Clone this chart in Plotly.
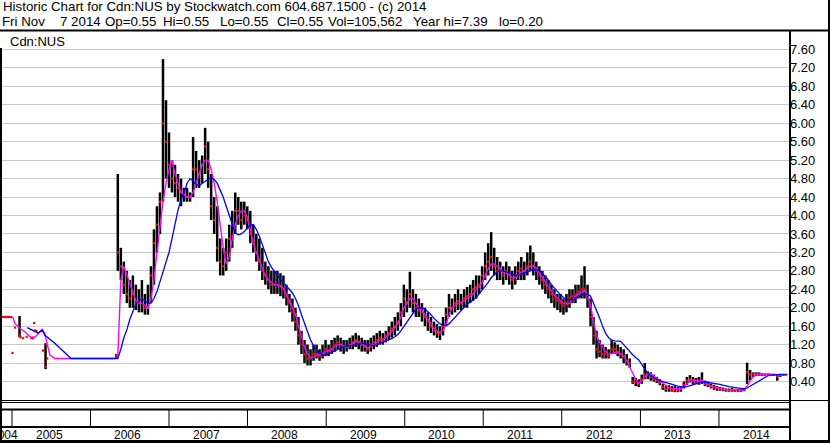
import pandas as pd
import plotly.graph_objects as go

# ---------------- data ----------------
# early, sparse trading (explicit dates)
early_dates = ["2004-11-16", "2004-11-23", "2004-11-30", "2004-12-07", "2004-12-14", "2004-12-21",
               "2004-12-29", "2005-01-03", "2005-01-15", "2005-02-05", "2005-02-10", "2005-02-22",
               "2005-03-10", "2005-04-02", "2005-04-09", "2005-04-14", "2005-04-17", "2005-04-25",
               "2005-05-25", "2005-06-06", "2005-06-10", "2005-06-14", "2006-05-01"]
early_high = [1.80, 1.80, 1.80, 1.80, 1.80, 1.80, 1.80, 1.02, 1.57, 1.82, 1.36, 1.34,
              1.37, 1.34, 1.34, 1.67, 1.51, 1.50, 1.07, 1.23, 1.19, 0.90, 1.00]
early_low = [1.80, 1.80, 1.80, 1.80, 1.80, 1.80, 1.80, 1.02, 1.57, 1.36, 1.36, 1.34,
             1.37, 1.34, 1.34, 1.67, 1.51, 1.50, 1.07, 0.67, 1.19, 0.90, 0.90]
early_close = [1.80, 1.80, 1.80, 1.80, 1.80, 1.80, 1.80, 1.02, 1.57, 1.40, 1.36, 1.34,
               1.37, 1.34, 1.34, 1.67, 1.51, 1.50, 1.07, 0.72, 1.19, 0.90, 0.97]

# main period: one bar every two weeks from 2006-05-08
main_start = "2006-05-08"
main_step = "14D"
main_high = [
    4.90, 3.30, 3.00, 2.80, 2.60, 2.70, 2.50, 2.40, 2.60, 2.30, 2.50, 2.90, 3.70, 4.20, 4.50, 7.39,
    6.50, 5.80, 5.20, 5.10, 4.90, 4.80, 4.60, 4.60, 4.50, 5.70, 5.40, 5.20, 5.30, 5.90, 5.60, 4.90,
    4.40, 4.20, 3.50, 3.30, 3.50, 3.80, 4.10, 4.50, 4.40, 4.30, 4.30, 4.20, 4.10, 3.80, 3.60, 3.50,
    3.30, 3.00, 2.90, 2.80, 2.80, 2.80, 2.75, 2.70, 2.50, 2.30, 2.20, 2.00, 1.80, 1.50, 1.30, 1.20,
    1.10, 1.20, 1.20, 1.10, 1.20, 1.30, 1.20, 1.30, 1.35, 1.40, 1.35, 1.30, 1.30, 1.35, 1.40, 1.45,
    1.40, 1.35, 1.30, 1.30, 1.35, 1.40, 1.45, 1.50, 1.45, 1.50, 1.60, 1.70, 1.80, 1.90, 2.10, 2.50,
    2.40, 2.78, 2.40, 2.30, 2.20, 2.10, 2.00, 1.90, 1.80, 1.70, 1.65, 1.60, 1.80, 2.00, 2.30, 2.20,
    2.30, 2.40, 2.30, 2.40, 2.45, 2.50, 2.60, 2.70, 2.70, 2.90, 3.20, 3.40, 3.64, 3.30, 3.10, 3.00,
    2.90, 3.00, 2.90, 2.80, 2.90, 3.00, 3.10, 3.00, 3.20, 3.35, 3.20, 3.00, 2.90, 2.80, 2.70, 2.60,
    2.50, 2.40, 2.30, 2.30, 2.20, 2.30, 2.40, 2.40, 2.50, 2.50, 2.70, 2.90, 2.50, 2.20, 1.80, 1.50,
    1.30, 1.20, 1.15, 1.10, 1.30, 1.25, 1.20, 1.15, 1.10, 1.00, 0.90, 0.50, 0.48, 0.45, 0.55, 0.80,
    0.62, 0.60, 0.55, 0.50, 0.45, 0.35, 0.30, 0.32, 0.30, 0.30, 0.28, 0.30, 0.40, 0.50, 0.54, 0.50,
    0.48, 0.50, 0.60, 0.42, 0.40, 0.35, 0.33, 0.30, 0.28, 0.27, 0.25, 0.25, 0.26, 0.24, 0.24, 0.25,
    0.26, 0.81, 0.65, 0.60, 0.60, 0.60, 0.58, 0.57, 0.57, 0.56, 0.56, 0.56, 0.56, 0.56, 0.56]
main_low = [
    2.80, 2.60, 2.30, 2.10, 2.00, 2.00, 1.95, 1.90, 1.90, 1.85, 1.85, 2.10, 2.50, 3.20, 3.60, 4.30,
    4.80, 4.60, 4.50, 4.40, 4.30, 4.20, 4.30, 4.30, 4.30, 4.40, 4.60, 4.60, 4.70, 4.90, 4.60, 3.90,
    3.60, 3.00, 2.70, 2.70, 2.80, 3.00, 3.30, 3.60, 3.80, 3.70, 3.80, 3.70, 3.40, 3.20, 3.00, 2.80,
    2.60, 2.50, 2.40, 2.30, 2.30, 2.30, 2.25, 2.20, 2.05, 1.90, 1.70, 1.50, 1.20, 1.00, 0.80, 0.75,
    0.75, 0.85, 0.90, 0.85, 0.90, 0.95, 0.95, 1.00, 1.05, 1.10, 1.05, 1.00, 1.05, 1.10, 1.10, 1.15,
    1.10, 1.05, 1.05, 1.00, 1.05, 1.10, 1.15, 1.20, 1.20, 1.25, 1.30, 1.35, 1.40, 1.50, 1.60, 1.80,
    1.90, 2.00, 1.90, 1.80, 1.80, 1.70, 1.60, 1.50, 1.45, 1.40, 1.35, 1.30, 1.40, 1.60, 1.80, 1.85,
    1.90, 1.95, 1.95, 2.00, 2.00, 2.10, 2.15, 2.20, 2.30, 2.40, 2.60, 2.70, 2.80, 2.70, 2.60, 2.60,
    2.50, 2.60, 2.50, 2.40, 2.50, 2.60, 2.60, 2.60, 2.70, 2.80, 2.70, 2.60, 2.50, 2.40, 2.30, 2.20,
    2.10, 2.00, 1.95, 1.90, 1.85, 1.90, 2.00, 2.10, 2.10, 2.20, 2.20, 2.20, 2.00, 1.60, 1.20, 0.90,
    0.93, 0.90, 0.90, 0.90, 1.00, 1.00, 0.95, 0.90, 0.80, 0.75, 0.70, 0.35, 0.30, 0.28, 0.35, 0.45,
    0.45, 0.42, 0.40, 0.37, 0.32, 0.22, 0.18, 0.18, 0.18, 0.17, 0.17, 0.18, 0.25, 0.33, 0.38, 0.35,
    0.35, 0.33, 0.35, 0.30, 0.28, 0.25, 0.22, 0.20, 0.20, 0.19, 0.18, 0.18, 0.18, 0.18, 0.17, 0.18,
    0.19, 0.35, 0.43, 0.50, 0.52, 0.52, 0.52, 0.53, 0.53, 0.53, 0.53, 0.42, 0.50, 0.53, 0.54]
main_close = [
    3.20, 2.90, 2.50, 2.30, 2.20, 2.30, 2.10, 2.10, 2.20, 2.00, 2.00, 2.70, 3.40, 3.80, 4.30, 6.00,
    5.60, 5.10, 4.80, 4.70, 4.60, 4.50, 4.45, 4.40, 4.40, 5.00, 5.00, 4.90, 5.10, 5.50, 5.00, 4.20,
    3.90, 3.30, 3.00, 2.90, 3.20, 3.50, 3.80, 4.10, 4.10, 3.90, 4.00, 3.90, 3.60, 3.40, 3.20, 3.00,
    2.80, 2.70, 2.60, 2.50, 2.50, 2.50, 2.45, 2.40, 2.25, 2.10, 1.90, 1.70, 1.40, 1.20, 1.00, 0.90,
    0.90, 1.00, 1.00, 0.95, 1.00, 1.10, 1.05, 1.10, 1.20, 1.25, 1.20, 1.15, 1.15, 1.20, 1.25, 1.30,
    1.25, 1.20, 1.15, 1.10, 1.20, 1.25, 1.30, 1.35, 1.30, 1.40, 1.45, 1.55, 1.60, 1.70, 1.90, 2.20,
    2.10, 2.30, 2.10, 2.00, 1.95, 1.90, 1.80, 1.70, 1.60, 1.50, 1.45, 1.45, 1.60, 1.85, 2.00, 2.00,
    2.10, 2.15, 2.10, 2.20, 2.25, 2.30, 2.40, 2.45, 2.50, 2.70, 2.90, 3.00, 3.10, 2.90, 2.80, 2.80,
    2.70, 2.80, 2.70, 2.60, 2.70, 2.80, 2.85, 2.80, 2.90, 3.00, 2.90, 2.80, 2.70, 2.60, 2.50, 2.40,
    2.30, 2.20, 2.15, 2.10, 2.05, 2.10, 2.20, 2.25, 2.30, 2.35, 2.40, 2.40, 2.20, 1.80, 1.40, 1.10,
    1.05, 1.00, 1.00, 0.95, 1.10, 1.10, 1.05, 1.00, 0.95, 0.85, 0.80, 0.40, 0.38, 0.35, 0.45, 0.55,
    0.55, 0.50, 0.45, 0.42, 0.38, 0.28, 0.24, 0.25, 0.22, 0.22, 0.22, 0.24, 0.33, 0.42, 0.45, 0.42,
    0.40, 0.40, 0.42, 0.35, 0.32, 0.30, 0.27, 0.25, 0.24, 0.23, 0.22, 0.21, 0.22, 0.21, 0.20, 0.21,
    0.22, 0.60, 0.55, 0.56, 0.56, 0.55, 0.55, 0.55, 0.55, 0.55, 0.55, 0.50, 0.55, 0.55, 0.55]

# moving averages, early part (explicit dates)
ma_short_early_dates = ["2005-01-04", "2005-01-15", "2005-02-07", "2005-03-02", "2005-03-26",
                        "2005-04-18", "2005-05-06", "2005-05-21", "2005-06-02", "2005-06-18",
                        "2005-06-26", "2005-07-19", "2006-04-24"]
ma_short_early = [1.80, 1.66, 1.55, 1.48, 1.37, 1.36, 1.45, 1.53, 1.45, 1.16, 0.98, 0.90, 0.90]
ma_long_early_dates = ["2005-03-13", "2005-04-09", "2005-05-03", "2005-05-21", "2005-06-02",
                       "2005-07-19", "2005-09-10", "2005-10-03", "2006-04-24"]
ma_long_early = [1.57, 1.50, 1.45, 1.52, 1.41, 1.23, 1.01, 0.90, 0.90]

# moving averages on the main two-week grid
ma_short = [
    0.95, 2.60, 2.90, 2.70, 2.50, 2.30, 2.15, 2.10, 2.10, 2.05, 2.00, 2.20, 2.60, 3.20, 3.80, 4.30,
    4.70, 5.00, 5.20, 4.90, 4.70, 4.50, 4.45, 4.40, 4.40, 4.50, 4.70, 4.90, 5.10, 5.20, 5.20, 5.00,
    4.70, 4.30, 3.80, 3.30, 2.95, 3.10, 3.50, 3.80, 4.00, 4.10, 4.10, 3.95, 3.70, 3.40, 3.20, 3.00,
    2.85, 2.70, 2.60, 2.55, 2.50, 2.50, 2.48, 2.42, 2.30, 2.15, 2.00, 1.85, 1.60, 1.35, 1.15, 1.00,
    0.92, 0.93, 0.97, 0.98, 1.00, 1.05, 1.07, 1.10, 1.15, 1.20, 1.20, 1.17, 1.15, 1.18, 1.22, 1.27,
    1.27, 1.22, 1.17, 1.13, 1.15, 1.20, 1.25, 1.30, 1.32, 1.35, 1.42, 1.50, 1.57, 1.65, 1.80, 2.00,
    2.10, 2.20, 2.20, 2.10, 2.00, 1.95, 1.85, 1.75, 1.65, 1.55, 1.50, 1.47, 1.50, 1.65, 1.85, 2.00,
    2.05, 2.10, 2.12, 2.15, 2.20, 2.25, 2.30, 2.40, 2.45, 2.55, 2.70, 2.85, 2.95, 2.95, 2.90, 2.85,
    2.75, 2.75, 2.72, 2.65, 2.65, 2.70, 2.78, 2.80, 2.85, 2.90, 2.92, 2.85, 2.75, 2.65, 2.55, 2.45,
    2.35, 2.27, 2.20, 2.15, 2.10, 2.08, 2.10, 2.17, 2.25, 2.30, 2.35, 2.38, 2.30, 2.05, 1.70, 1.40,
    1.25, 1.15, 1.05, 1.00, 1.00, 1.03, 1.03, 1.00, 0.95, 0.85, 0.72, 0.60, 0.45, 0.37, 0.40, 0.50,
    0.55, 0.57, 0.52, 0.45, 0.40, 0.35, 0.30, 0.27, 0.25, 0.24, 0.24, 0.25, 0.28, 0.35, 0.42, 0.43,
    0.43, 0.42, 0.42, 0.38, 0.34, 0.30, 0.28, 0.26, 0.25, 0.23, 0.22, 0.22, 0.22, 0.21, 0.21, 0.21,
    0.22, 0.30, 0.42, 0.50, 0.55, 0.56, 0.56, 0.55, 0.55, 0.55, 0.55, 0.54, 0.53, 0.54, 0.55]
ma_long = [
    0.90, 1.10, 1.35, 1.52, 1.75, 1.92, 2.08, 2.15, 2.20, 2.15, 2.10, 2.10, 2.20, 2.35, 2.55, 2.80,
    3.00, 3.20, 3.50, 3.85, 4.12, 4.35, 4.50, 4.70, 4.80, 4.75, 4.67, 4.65, 4.70, 4.75, 4.80, 4.83,
    4.78, 4.70, 4.55, 4.40, 4.20, 4.00, 3.80, 3.62, 3.58, 3.60, 3.65, 3.72, 3.80, 3.80, 3.70, 3.55,
    3.35, 3.15, 3.00, 2.88, 2.78, 2.70, 2.62, 2.55, 2.48, 2.40, 2.32, 2.20, 2.05, 1.85, 1.65, 1.45,
    1.30, 1.18, 1.08, 1.02, 0.98, 0.98, 1.00, 1.03, 1.06, 1.10, 1.13, 1.15, 1.16, 1.17, 1.18, 1.20,
    1.22, 1.23, 1.22, 1.20, 1.18, 1.18, 1.20, 1.22, 1.25, 1.28, 1.30, 1.33, 1.37, 1.42, 1.50, 1.60,
    1.70, 1.80, 1.90, 1.97, 2.00, 2.00, 1.97, 1.92, 1.85, 1.77, 1.70, 1.65, 1.62, 1.62, 1.65, 1.72,
    1.80, 1.88, 1.95, 2.02, 2.08, 2.12, 2.17, 2.22, 2.30, 2.38, 2.47, 2.55, 2.65, 2.72, 2.78, 2.80,
    2.80, 2.78, 2.75, 2.72, 2.70, 2.70, 2.72, 2.75, 2.78, 2.80, 2.82, 2.82, 2.80, 2.75, 2.68, 2.60,
    2.50, 2.42, 2.35, 2.28, 2.22, 2.18, 2.17, 2.17, 2.20, 2.23, 2.27, 2.30, 2.30, 2.25, 2.10, 1.95,
    1.78, 1.60, 1.45, 1.35, 1.30, 1.28, 1.27, 1.27, 1.20, 1.12, 1.05, 0.98, 0.92, 0.87, 0.77, 0.67,
    0.58, 0.52, 0.48, 0.45, 0.42, 0.40, 0.38, 0.35, 0.33, 0.31, 0.30, 0.29, 0.28, 0.29, 0.31, 0.34,
    0.36, 0.38, 0.39, 0.39, 0.38, 0.37, 0.37, 0.36, 0.34, 0.32, 0.30, 0.29, 0.28, 0.27, 0.26, 0.25,
    0.24, 0.26, 0.30, 0.34, 0.38, 0.42, 0.46, 0.50, 0.53, 0.54, 0.55, 0.55, 0.55, 0.55, 0.55]

y_ticks = [0.40, 0.80, 1.20, 1.60, 2.00, 2.40, 2.80, 3.20, 3.60, 4.00,
           4.40, 4.80, 5.20, 5.60, 6.00, 6.40, 6.80, 7.20, 7.60]
years = [2005, 2006, 2007, 2008, 2009, 2010, 2011, 2012, 2013, 2014]

title_line1 = "Historic Chart for Cdn:NUS by Stockwatch.com 604.687.1500 - (c) 2014"
title_line2_parts = ["Fri Nov", "7 2014", "Op=0.55", "Hi=0.55", "Lo=0.55", "Cl=0.55",
                     "Vol=105,562", "Year hi=7.39", "lo=0.20"]
symbol_label = "Cdn:NUS"

# ---------------- build ----------------
main_dates = list(pd.date_range(main_start, periods=len(main_high), freq=main_step))
all_dates = [pd.Timestamp(d) for d in early_dates] + main_dates
all_high = early_high + main_high
all_low = early_low + main_low
all_close = early_close + main_close

bx, by = [], []
for d, h, l in zip(all_dates, all_high, all_low):
    if h > l:
        bx += [d, d, None]
        by += [l, h, None]

ms_x = [pd.Timestamp(d) for d in ma_short_early_dates] + main_dates
ms_y = ma_short_early + ma_short
ml_x = [pd.Timestamp(d) for d in ma_long_early_dates] + main_dates
ml_y = ma_long_early + ma_long

FONT = "Liberation Sans, Arial, sans-serif"
W, H = 830, 443
PL, PR, PT, PB = 2, 789, 31, 400
# left pixel positions of the segments of the second header line
line2_px = [0, 58, 103, 161, 218, 275, 326, 411, 497]


def fx(p):
    return (p - PL) / (PR - PL)


def fy(p):
    return (PB - p) / (PB - PT)


fig = go.Figure()
fig.add_trace(go.Scatter(x=bx, y=by, mode="lines", line=dict(color="black", width=2.5),
                         hoverinfo="skip", showlegend=False))
fig.add_trace(go.Scatter(x=all_dates, y=all_close, mode="markers",
                         marker=dict(symbol="square", size=2.2, color="#ff0000", line=dict(width=0)),
                         showlegend=False))
fig.add_trace(go.Scatter(x=ms_x, y=ms_y, mode="lines", line=dict(color="#ff00ff", width=1.4),
                         showlegend=False))
fig.add_trace(go.Scatter(x=ml_x, y=ml_y, mode="lines", line=dict(color="#0000ff", width=1.3),
                         showlegend=False))

shapes = []


def hline(py, x0, x1, w=1):
    shapes.append(dict(type="line", xref="paper", yref="paper", x0=fx(x0), x1=fx(x1),
                       y0=fy(py), y1=fy(py), line=dict(color="black", width=w)))


def vline(px, y0, y1, w=1):
    shapes.append(dict(type="line", xref="paper", yref="paper", x0=fx(px), x1=fx(px),
                       y0=fy(y0), y1=fy(y1), line=dict(color="black", width=w)))


hline(30.5, 0, 830, 2)        # under header
vline(790, 30, 443, 2)        # chart / scale divider
vline(829, 0, 443, 2)         # right border
vline(1, 48, 443, 2)          # left border
hline(441.5, 0, 830, 3)       # bottom border
hline(400.5, 0, 830, 1)
hline(402.5, 0, 790, 1)
hline(409.5, 0, 790, 2)
hline(427, 0, 790, 2)
for yr in years:
    shapes.append(dict(type="line", xref="x", yref="paper", x0=f"{yr}-01-01", x1=f"{yr}-01-01",
                       y0=fy(410), y1=fy(427), line=dict(color="black", width=1)))

annotations = [
    dict(text=title_line1, xref="paper", yref="paper", x=fx(1), y=fy(6.5), xanchor="left",
         yanchor="middle", showarrow=False, font=dict(family=FONT, size=13.3, color="black")),
    dict(text=symbol_label, xref="paper", yref="paper", x=fx(8), y=fy(41), xanchor="left",
         yanchor="middle", showarrow=False, font=dict(family=FONT, size=13, color="black")),
    dict(text="2004", xref="x", yref="paper", x="2005-01-01", y=fy(434.5), xanchor="right",
         xshift=8, yanchor="middle", showarrow=False, font=dict(family=FONT, size=12, color="black")),
]
for part, p in zip(title_line2_parts, line2_px):
    annotations.append(dict(text=part, xref="paper", yref="paper", x=fx(p), y=fy(22),
                            xanchor="left", yanchor="middle", showarrow=False,
                            font=dict(family=FONT, size=13.3, color="black")))
for yr in years:
    annotations.append(dict(text=str(yr), xref="x", yref="paper", x=f"{yr}-07-02", y=fy(434.5),
                            xanchor="center", xshift=-2, yanchor="middle", showarrow=False,
                            font=dict(family=FONT, size=12, color="black")))

fig.update_layout(
    width=W, height=H, margin=dict(l=PL, r=W - PR, t=PT, b=H - PB),
    paper_bgcolor="white", plot_bgcolor="white",
    shapes=shapes, annotations=annotations,
    xaxis=dict(type="date", range=["2004-11-15 12:00", "2014-11-22 17:00"], showgrid=False,
               showticklabels=False, zeroline=False, showline=False, ticks=""),
    yaxis=dict(range=[0, 8], side="right", tickvals=y_ticks,
               ticktext=[f"{v:.2f}" for v in y_ticks], showgrid=True, gridcolor="#c8c8c8",
               gridwidth=1, zeroline=False, showline=False, ticks="",
               tickfont=dict(family=FONT, size=13, color="black")),
)
fig.write_html("out.html", config={"displayModeBar": False},
               post_script="document.body.style.margin='0px';document.body.style.overflow='hidden';")
